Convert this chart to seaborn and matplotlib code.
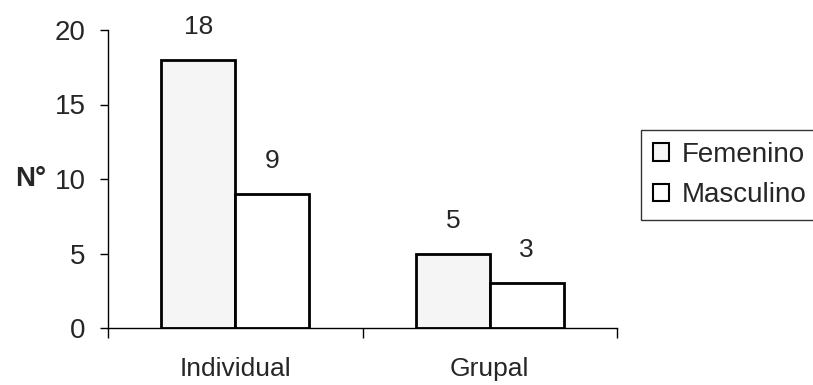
import matplotlib
matplotlib.use("Agg")
import matplotlib.pyplot as plt
import seaborn as sns
import pandas as pd
from matplotlib.patches import Patch

categories = ["Individual", "Grupal"]
series = ["Femenino", "Masculino"]
femenino = [18, 5]
masculino = [9, 3]

df = pd.DataFrame({
    "cat": categories * 2,
    "sexo": [series[0]] * 2 + [series[1]] * 2,
    "n": femenino + masculino,
})

sns.set_style("white")
plt.rcParams["font.family"] = ["Liberation Sans", "DejaVu Sans"]

fig = plt.figure(figsize=(8.13, 3.85), dpi=100)
ax = fig.add_axes([108 / 813, 57 / 385, 509 / 813, 298 / 385])

colors = {"Femenino": "#f5f5f5", "Masculino": "#ffffff"}
sns.barplot(data=df, x="cat", y="n", hue="sexo", order=categories,
            hue_order=series, palette=colors, width=0.58, gap=0,
            edgecolor="black", linewidth=2.0, saturation=1, ax=ax,
            legend=False)

for cont in ax.containers:
    ax.bar_label(cont, padding=15, fontsize=19)

ax.set_xlim(-0.5, 1.5)
ax.set_ylim(0, 20)
ax.set_yticks([0, 5, 10, 15, 20])
ax.tick_params(axis="y", labelsize=20, length=6, width=1, direction="out",
               left=True, pad=10, color="black")
ax.set_xticks([0, 1])
ax.set_xticklabels(categories)
ax.set_xticks([-0.5, 0.5, 1.5], minor=True)
ax.tick_params(axis="x", which="major", length=0, labelsize=19, pad=21)
ax.tick_params(axis="x", which="minor", length=7, width=1, direction="out",
               bottom=True, color="black")
ax.set_xlabel("")
ax.set_ylabel("N°", rotation=0, fontsize=20, fontweight="bold",
              va="center", ha="right")
ax.yaxis.set_label_coords(-0.122, 0.5)

for s in ["top", "right"]:
    ax.spines[s].set_visible(False)
for s in ["left", "bottom"]:
    ax.spines[s].set_color("black")
    ax.spines[s].set_linewidth(1)

handles = [Patch(facecolor=colors[s], edgecolor="black", linewidth=1.5, label=s)
           for s in series]
leg = fig.legend(handles=handles, loc="upper left",
                 bbox_to_anchor=(641 / 813, 1 - 130 / 385),
                 fontsize=20, frameon=True, fancybox=False,
                 handlelength=0.6, handleheight=0.6, handletextpad=0.45,
                 borderpad=0.42, labelspacing=0.53, borderaxespad=0)
leg.get_frame().set_edgecolor("black")
leg.get_frame().set_linewidth(1)

fig.savefig("out.png", dpi=100, facecolor="white")
